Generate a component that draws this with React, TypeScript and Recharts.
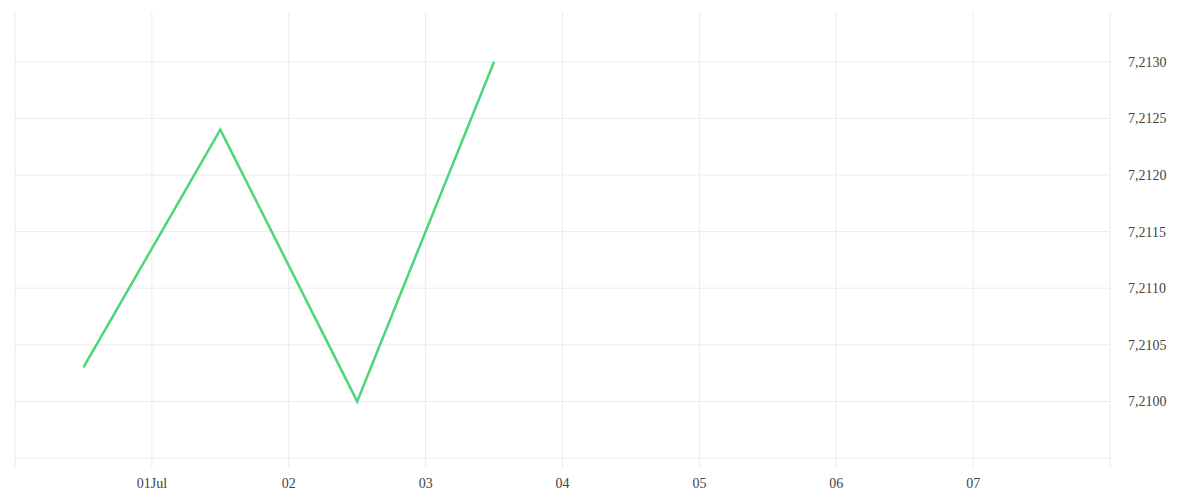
import React from "react";
import { LineChart, Line, XAxis, YAxis, CartesianGrid } from "recharts";

// Days counted from 30 Jun (0 = 30 Jun 00:00)
const pointDays = [0.5, 1.5, 2.5, 3.5];
const rateValues = [7.2103, 7.2124, 7.21, 7.213];

const xTicks = [0, 1, 2, 3, 4, 5, 6, 7, 8];
const xTickLabels = ["", "01Jul", "02", "03", "04", "05", "06", "07", ""];
const yTicks = [7.21, 7.2105, 7.211, 7.2115, 7.212, 7.2125, 7.213];

const data = pointDays.map((d, i) => ({ day: d, value: rateValues[i] }));

const GRID = "#ebebeb";
const TEXT = "#444";
const FONT = "'Liberation Serif', serif";

export default function App() {
  return (
    <div style={{ width: 1184, height: 492 }}>
      <LineChart
        width={1184}
        height={492}
        data={data}
        margin={{ top: 4, right: 0, bottom: 0, left: 7 }}
      >
        <CartesianGrid
          stroke={GRID}
          strokeWidth={1}
          horizontalValues={yTicks}
          verticalValues={xTicks}
        />
        <XAxis
          dataKey="day"
          type="number"
          domain={[0, 8]}
          ticks={xTicks}
          interval={0}
          tickFormatter={(v: number) => xTickLabels[xTicks.indexOf(v)] ?? ""}
          axisLine={{ stroke: GRID }}
          tickLine={{ stroke: GRID }}
          tickSize={10}
          tickMargin={10}
          height={42}
          tick={{ fill: TEXT, fontSize: 14, fontFamily: FONT }}
        />
        <YAxis
          orientation="right"
          type="number"
          domain={[7.2095, 7.21344]}
          ticks={yTicks}
          interval={0}
          allowDataOverflow
          axisLine={false}
          tickLine={false}
          tickSize={8}
          tickMargin={10}
          width={82}
          tickFormatter={(v: number) => v.toFixed(4).replace(".", ",")}
          tick={{ fill: TEXT, fontSize: 14, fontFamily: FONT }}
        />
        <Line
          type="linear"
          dataKey="value"
          stroke="#4cd67a"
          strokeWidth={2.5}
          dot={false}
          activeDot={false}
          isAnimationActive={false}
        />
      </LineChart>
    </div>
  );
}
